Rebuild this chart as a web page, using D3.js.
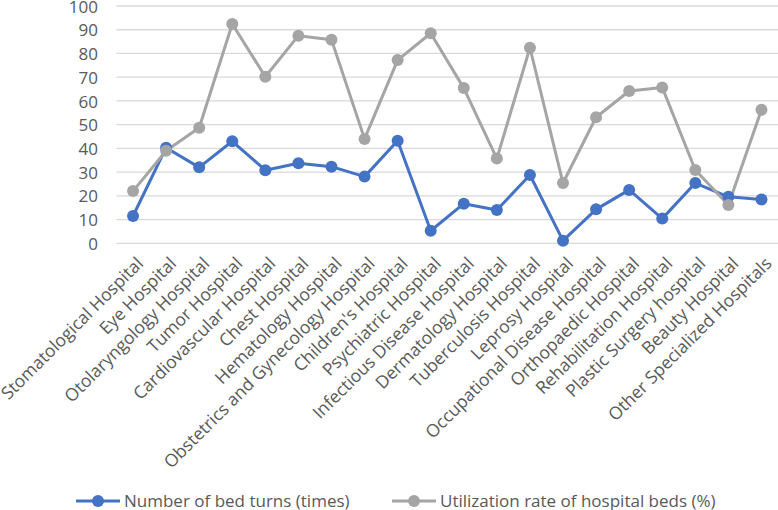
<!DOCTYPE html>
<html>
<head>
<meta charset="utf-8">
<script src="https://cdn.jsdelivr.net/npm/d3@7"></script>
<style>
  body { margin: 0; background: #fff; }
  svg text { font-family: "Open Sans", sans-serif; fill: #595959; }
</style>
</head>
<body>
<main></main>
<script>
(function(){

  const categories = ["Stomatological Hospital", "Eye Hospital", "Otolaryngology Hospital", "Tumor Hospital",
    "Cardiovascular Hospital", "Chest Hospital", "Hematology Hospital", "Obstetrics and Gynecology Hospital",
    "Children's Hospital", "Psychiatric Hospital", "Infectious Disease Hospital", "Dermatology Hospital",
    "Tuberculosis Hospital", "Leprosy Hospital", "Occupational Disease Hospital", "Orthopaedic Hospital",
    "Rehabilitation Hospital", "Plastic Surgery hospital", "Beauty Hospital", "Other Specialized Hospitals"],
  bedTurns = [11.5, 40.3, 32.0, 43.0, 30.8, 33.7, 32.3, 28.1, 43.2, 5.3, 16.7, 14.0, 28.8, 1.1, 14.3, 22.5, 10.4, 25.4, 19.6, 18.5],
  utilization = [22.0, 39.0, 48.7, 92.4, 70.2, 87.5, 85.8, 44.0, 77.2, 88.5, 65.4, 35.7, 82.4, 25.4, 53.1, 64.2, 65.7, 30.9, 16.1, 56.3],
  yTicks = [0, 10, 20, 30, 40, 50, 60, 70, 80, 90, 100],
  seriesNames = ["Number of bed turns (times)", "Utilization rate of hospital beds (%)"],
  colors = ["#4472C4", "#A5A5A5"];

  const w = 778, h = 510,
    left = 116.5, right = 778, top = 6, bottom = 243.3;

  const svg = d3.select("main")
    .append("svg")
    .attr("width", w)
    .attr("height", h);

  const x = d3.scaleBand()
    .domain(categories)
    .range([left, right]);

  const y = d3.scaleLinear()
    .domain([0, 100])
    .range([bottom, top]);

  // GRID
  svg.append("g")
    .selectAll("line")
    .data(yTicks)
    .join("line")
    .attr("x1", left)
    .attr("x2", right)
    .attr("y1", d => y(d))
    .attr("y2", d => y(d))
    .attr("stroke", "#D9D9D9")
    .attr("stroke-width", 1.3);

  // Y AXIS
  const yAxis = d3.axisLeft(y).tickValues(yTicks).tickSize(0).tickPadding(0);
  const yg = svg.append("g")
    .attr("transform", "translate(98,0)")
    .call(yAxis);
  yg.select(".domain").remove();
  yg.selectAll("text").style("font-size", "17px").attr("dy", "0.36em");

  // X AXIS
  const xAxis = d3.axisBottom(x).tickSize(0);
  const xg = svg.append("g")
    .attr("transform", "translate(0," + bottom + ")")
    .call(xAxis);
  xg.select(".domain").remove();
  xg.selectAll("text")
    .style("font-size", "17.5px")
    .attr("text-anchor", "end")
    .attr("transform", "translate(7,17) rotate(-45)")
    .attr("x", 0)
    .attr("y", 0)
    .attr("dy", "0.35em");

  // LINES
  const series = [bedTurns, utilization];
  const line = d3.line()
    .x((d, i) => x(categories[i]) + x.bandwidth() / 2)
    .y(d => y(d));

  series.forEach((vals, s) => {
    svg.append("path")
      .datum(vals)
      .attr("fill", "none")
      .attr("stroke", colors[s])
      .attr("stroke-width", 3)
      .attr("stroke-linejoin", "round")
      .attr("d", line);
  });
  series.forEach((vals, s) => {
    svg.append("g")
      .selectAll("circle")
      .data(vals)
      .join("circle")
      .attr("cx", (d, i) => x(categories[i]) + x.bandwidth() / 2)
      .attr("cy", d => y(d))
      .attr("r", 6)
      .attr("fill", colors[s]);
  });

  // LEGEND
  const legendX = [76, 392];
  const legend = svg.append("g").attr("transform", "translate(0,501)");
  seriesNames.forEach((name, s) => {
    const g = legend.append("g").attr("transform", "translate(" + legendX[s] + ",0)");
    g.append("line").attr("x1", 0).attr("x2", 44).attr("stroke", colors[s]).attr("stroke-width", 3);
    g.append("circle").attr("cx", 22).attr("r", 6).attr("fill", colors[s]);
    g.append("text").attr("x", 48).attr("dy", "0.35em").style("font-size", "17px").text(name);
  });

})()
</script>
</body>
</html>
